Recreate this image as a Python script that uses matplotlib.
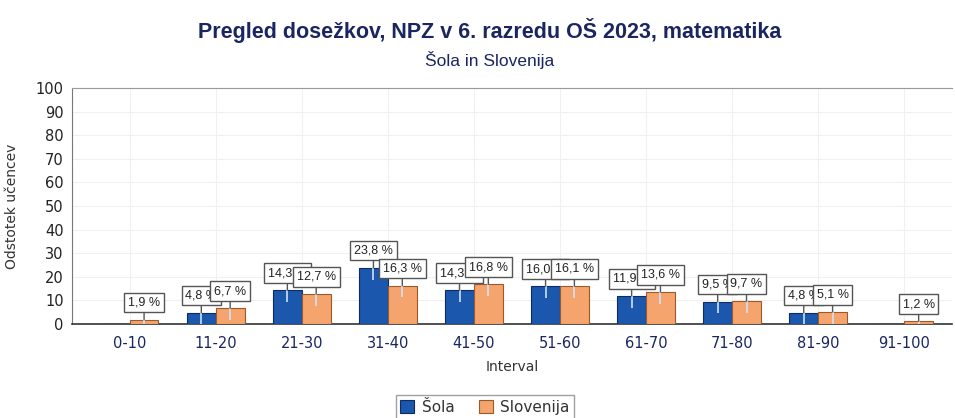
import numpy as np
import matplotlib
matplotlib.use('Agg')
import matplotlib.pyplot as plt

# Podatki
intervali = ['0-10', '11-20', '21-30', '31-40', '41-50', '51-60', '61-70', '71-80', '81-90', '91-100']
sola = [0, 4.8, 14.3, 23.8, 14.3, 16.0, 11.9, 9.5, 4.8, 0]
slovenija = [1.9, 6.7, 12.7, 16.3, 16.8, 16.1, 13.6, 9.7, 5.1, 1.2]

barva_sola = '#1a57ad'
barva_slo = '#f5a46d'
navy = '#1b2660'

fig = plt.figure(figsize=(9.55, 4.18), dpi=100)
ax = fig.add_axes([0.0754, 0.2249, 0.921, 0.5646])

x = np.arange(len(intervali))
w = 0.335
b1 = ax.bar(x - w / 2, sola, w, color=barva_sola, edgecolor='#0d2c66', linewidth=0.8, zorder=3, label='Šola')
b2 = ax.bar(x + w / 2, slovenija, w, color=barva_slo, edgecolor='#9a5a2c', linewidth=0.8, zorder=3, label='Slovenija')


def oznake(pozicije, vrednosti):
    for xi, v in zip(pozicije, vrednosti):
        if v <= 0:
            continue
        # svetla crta v stolpcu
        ax.vlines(xi, max(v - 5, 0), v, color='#cfe3f5', linewidth=1.2, zorder=4)
        besedilo = f'{v:.1f} %'.replace('.', ',')
        ax.annotate(besedilo, xy=(xi, v), xytext=(0, 8), textcoords='offset points',
                    ha='center', va='bottom', fontsize=9, color='#222222', zorder=5,
                    family='Liberation Sans',
                    bbox=dict(boxstyle='square,pad=0.3', fc='white', ec='#555555', lw=1.0),
                    arrowprops=dict(arrowstyle='-', color='#555555', lw=1.0, shrinkA=0, shrinkB=0))


oznake(x - w / 2, sola)
oznake(x + w / 2, slovenija)

ax.set_xlim(-0.67, 9.55)
ax.set_ylim(0, 100)
ax.set_yticks(range(0, 101, 10))
ax.set_xticks(x)
ax.set_xticklabels(intervali, color=navy, fontsize=10.5)
ax.tick_params(axis='y', labelsize=10.5, labelcolor='#222222', length=0, pad=6)
ax.tick_params(axis='x', length=0, pad=9)

ax.grid(True, color='#f0f0f0', linewidth=0.8, zorder=0)
ax.set_axisbelow(True)

ax.spines['right'].set_visible(False)
ax.spines['top'].set_color('#9a9a9a')
ax.spines['left'].set_color('#777777')
ax.spines['bottom'].set_color('#333333')
ax.spines['bottom'].set_linewidth(1.2)

ax.set_xlabel('Interval', fontsize=10, color='#333333', labelpad=6)
ax.set_ylabel('Odstotek učencev', fontsize=10, color='#333333', labelpad=12)

fig.text(0.513, 0.928, 'Pregled dosežkov, NPZ v 6. razredu OŠ 2023, matematika',
         ha='center', va='center', fontsize=15.5, fontweight='bold', color=navy, family='Liberation Sans')
fig.text(0.513, 0.857, 'Šola in Slovenija', ha='center', va='center', fontsize=12.5,
         color=navy, family='Liberation Sans')

leg = fig.legend(handles=[b1, b2], loc='center', bbox_to_anchor=(0.508, 0.025), ncol=2,
                 fontsize=11, frameon=True, fancybox=False, edgecolor='#888888',
                 handlelength=0.9, handleheight=0.9, handletextpad=0.5, columnspacing=1.6,
                 borderpad=0.3, borderaxespad=0)
for t in leg.get_texts():
    t.set_color('#333333')

plt.savefig('out.png', dpi=100)
